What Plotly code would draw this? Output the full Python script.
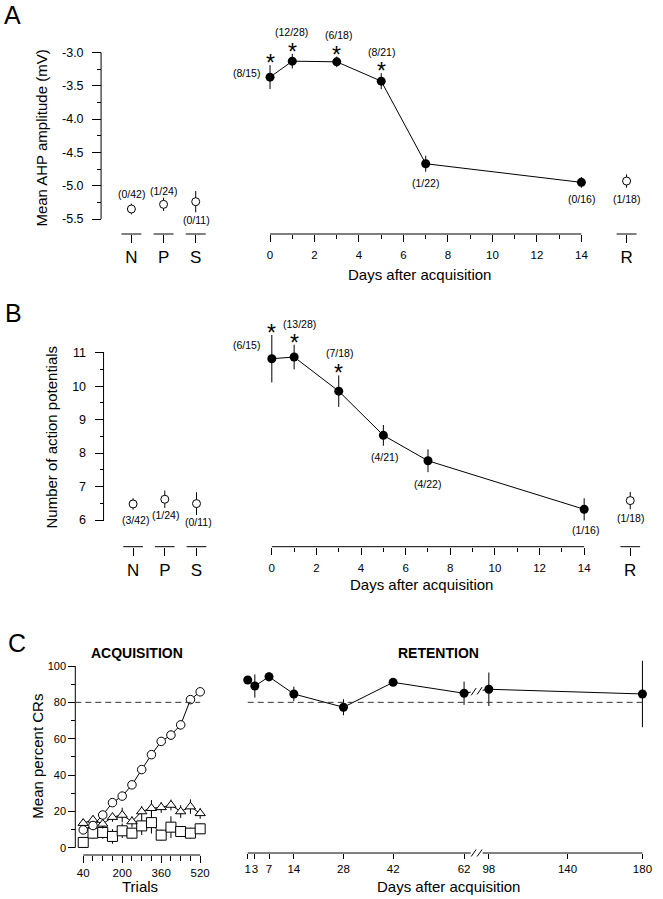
import plotly.graph_objects as go

W, H = 663, 899
SANS = "Liberation Sans, Arial, Helvetica, sans-serif"

# ---------------- data ----------------
days = [0, 1, 3, 5, 7, 14]
ctrl_groups = ["N", "P", "S"]
retest_group = ["R"]

# A: mean AHP amplitude (mV)
ahp_mean = [-3.37, -3.13, -3.14, -3.43, -4.67, -4.95]
ahp_sem = [0.18, 0.11, 0.08, 0.12, 0.12, 0.08]
ahp_counts = ["(8/15)", "(12/28)", "(6/18)", "(8/21)", "(1/22)", "(0/16)"]
ahp_signif = [1, 1, 1, 1, 0, 0]
ahp_ctrl_mean = [-5.35, -5.28, -5.24]
ahp_ctrl_sem = [0.08, 0.10, 0.16]
ahp_ctrl_counts = ["(0/42)", "(1/24)", "(0/11)"]
ahp_r_mean = [-4.93]
ahp_r_sem = [0.10]
ahp_r_counts = ["(1/18)"]

# B: number of action potentials
ap_mean = [10.82, 10.87, 9.85, 8.53, 7.77, 6.32]
ap_sem = [0.71, 0.37, 0.47, 0.31, 0.34, 0.33]
ap_counts = ["(6/15)", "(13/28)", "(7/18)", "(4/21)", "(4/22)", "(1/16)"]
ap_signif = [1, 1, 1, 0, 0, 0]
ap_ctrl_mean = [6.48, 6.62, 6.49]
ap_ctrl_sem = [0.17, 0.26, 0.34]
ap_ctrl_counts = ["(3/42)", "(1/24)", "(0/11)"]
ap_r_mean = [6.58]
ap_r_sem = [0.26]
ap_r_counts = ["(1/18)"]

# C: acquisition, mean percent CRs per 40-trial block
trials = [40, 80, 120, 160, 200, 240, 280, 320, 360, 400, 440, 480, 520]
cr_circle = [9.8, 12.2, 18.0, 24.8, 28.4, 34.6, 43.0, 51.2, 58.5, 62.0, 67.6, 81.5, 85.8]
cr_circle_sem = [1.5, 1.5, 1.5, 2.0, 2.0, 2.0, 2.0, 2.0, 2.0, 2.5, 2.5, 2.0, 1.5]
cr_triangle = [13.5, 15.3, 13.1, 16.8, 18.0, 14.4, 19.9, 21.7, 22.2, 23.5, 19.9, 22.6, 18.9]
cr_triangle_sem = [2.5, 2.5, 2.5, 2.5, 4.0, 3.0, 3.0, 4.5, 3.0, 3.0, 3.5, 4.0, 3.0]
cr_square = [2.9, 8.0, 8.4, 6.2, 9.3, 8.0, 12.0, 13.8, 6.9, 11.3, 8.9, 8.0, 10.4]
cr_square_sem = [2.5, 3.0, 3.5, 4.0, 4.0, 3.0, 5.0, 6.0, 3.0, 6.0, 3.0, 3.0, 3.0]
criterion = 80

# C: retention
ret_days_early = [1, 3, 7, 14, 28, 42, 62]
ret_cr_early = [92.3, 89.0, 94.1, 84.6, 77.3, 91.0, 85.0]
ret_sem_early = [1.0, 6.4, 2.6, 4.0, 4.4, 1.0, 6.4]
ret_days_late = [98, 180]
ret_cr_late = [87.2, 84.6]
ret_sem_late = [9.2, 18.3]
ret_ticks_early = [1, 3, 7, 14, 28, 42, 62]
ret_ticks_late = [98, 140, 180]

# label offsets (px, screen: +dy = down)
ahp_off = [(-24, -4), (-1, -29), (2, -27), (0, -29), (0, 19), (0, 17)]
ahp_ctrl_off = [(0, -15), (0, -13), (1, 18)]
ahp_r_off = [(0, 18)]
ap_off = [(-25, -14), (5, -33), (1, -38), (1, 22), (0, 23), (1, 21)]
ap_ctrl_off = [(2, 16), (1, 16), (2, 18)]
ap_r_off = [(0, 17)]


def px(x):
    return x / W


def py(y):
    return 1 - y / H


def val_at(v0, p0, v1, p1, p):
    return v0 + (p - p0) * (v1 - v0) / (p1 - p0)


def pix_at(v0, p0, v1, p1, v):
    return p0 + (v - v0) * (p1 - p0) / (v1 - v0)


def xdom(pts, rng):
    return [px(pix_at(*pts, rng[0])), px(pix_at(*pts, rng[1]))]


def akey(a, i):
    return f"{a}axis" if i == 1 else f"{a}axis{i}"


def aref(a, i):
    return a if i == 1 else f"{a}{i}"


BLACK = "black"
LINE = dict(color=BLACK, width=1)
tick_common = dict(ticks="outside", tickcolor=BLACK, tickwidth=1, showgrid=False,
                   zeroline=False, showline=False, anchor="free", tickangle=0)

fig = go.Figure()
lay = {}
ann = []
shp = []


def err(a):
    return dict(type="data", array=a, visible=True, thickness=1, width=0, color=BLACK)


def paper_text(text, xy, size, angle=0):
    ann.append(dict(x=px(xy[0]), y=py(xy[1]), xref="paper", yref="paper", text=text,
                    textangle=angle, showarrow=False, xanchor="center", yanchor="middle",
                    font=dict(family=SANS, size=size, color=BLACK)))


def add_ab_panel(ax, g, d):
    yi, xd, xg, xr = ax
    yr, xdr, xgr, xrr = aref("y", yi), aref("x", xd), aref("x", xg), aref("x", xr)
    ap = g["axis_py"]
    y_lo = val_at(*g["y_pts"], ap)
    y_hi = val_at(*g["y_pts"], g["y_top"])
    lay[akey("y", yi)] = dict(
        tick_common, range=[y_lo, y_hi], domain=[py(ap), py(g["y_top"])],
        position=px(g["y_px"]), ticklen=9, ticklabelstandoff=6, tickvals=g["y_ticks"],
        ticktext=[g["y_fmt"].format(v) for v in g["y_ticks"]],
        minor=dict(tickvals=g["y_minor"], ticks="outside", ticklen=4, tickcolor=BLACK, tickwidth=1),
        tickfont=dict(family=SANS, size=12.5, color=BLACK))
    shp.append(dict(type="line", xref="paper", yref=yr, x0=px(g["y_px"]), x1=px(g["y_px"]),
                    y0=min(g["y_ticks"]), y1=max(g["y_ticks"]), line=LINE))

    dr = [-0.8, 14.8]
    lay[akey("x", xd)] = dict(
        tick_common, range=dr, domain=xdom(g["d_pts"], dr), position=py(ap), ticklen=7,
        ticklabelstandoff=3, tickvals=list(range(0, 15, 2)),
        minor=dict(tickvals=list(range(1, 14, 2)), ticks="outside", ticklen=4, tickcolor=BLACK, tickwidth=1),
        tickfont=dict(family=SANS, size=11.5, color=BLACK))
    shp.append(dict(type="line", xref=xdr, yref="paper", x0=min(days), x1=max(days),
                    y0=py(ap), y1=py(ap), line=LINE))

    gr = [-0.7, 2.6]
    lay[akey("x", xg)] = dict(
        tick_common, type="category", range=gr, domain=xdom(g["g_pts"], gr), position=py(ap),
        ticklen=8, tickfont=dict(family=SANS, size=17, color=BLACK))
    gs = (g["g_pts"][3] - g["g_pts"][1]) / (g["g_pts"][2] - g["g_pts"][0])
    rr = [-0.6, 0.6]
    lay[akey("x", xr)] = dict(
        tick_common, type="category", range=rr,
        domain=[px(g["r_px"] + rr[0] * gs), px(g["r_px"] + rr[1] * gs)], position=py(ap),
        ticklen=8, tickfont=dict(family=SANS, size=17, color=BLACK))
    for i in range(len(ctrl_groups)):
        shp.append(dict(type="line", xref=xgr, yref="paper", x0=i - 0.31, x1=i + 0.31,
                        y0=py(ap), y1=py(ap), line=LINE))
    shp.append(dict(type="line", xref=xrr, yref="paper", x0=-0.31, x1=0.31,
                    y0=py(ap), y1=py(ap), line=LINE))

    fig.add_trace(go.Scatter(
        x=days, y=d["mean"], error_y=err(d["sem"]), mode="lines+markers",
        marker=dict(color=BLACK, size=9), line=LINE, xaxis=xdr, yaxis=yr,
        showlegend=False, cliponaxis=False))
    open_m = dict(color="white", size=8, line=dict(color=BLACK, width=1))
    fig.add_trace(go.Scatter(
        x=ctrl_groups, y=d["c_mean"], error_y=err(d["c_sem"]), mode="markers",
        marker=open_m, xaxis=xgr, yaxis=yr, showlegend=False, cliponaxis=False))
    fig.add_trace(go.Scatter(
        x=retest_group, y=d["r_mean"], error_y=err(d["r_sem"]), mode="markers",
        marker=open_m, xaxis=xrr, yaxis=yr, showlegend=False, cliponaxis=False))

    lf = dict(family=SANS, size=10.5, color=BLACK)
    groups = [(days, d["mean"], d["counts"], d["off"], xdr),
              (ctrl_groups, d["c_mean"], d["c_counts"], d["c_off"], xgr),
              (retest_group, d["r_mean"], d["r_counts"], d["r_off"], xrr)]
    for xs, ys, ts, offs, xref in groups:
        for x, y, t, (dx, dy) in zip(xs, ys, ts, offs):
            ann.append(dict(x=x, y=y, xref=xref, yref=yr, text=t, showarrow=False,
                            xanchor="center", yanchor="middle",
                            xshift=dx, yshift=-dy, font=lf))
    for x, y, e, s in zip(days, d["mean"], d["sem"], d["signif"]):
        if s:
            ann.append(dict(x=x, y=y + e, xref=xdr, yref=yr, text="*", showarrow=False,
                            xanchor="center", yanchor="middle",
                            yshift=2, font=dict(family=SANS, size=23, color=BLACK)))

    paper_text(g["ytitle"], g["ytitle_xy"], 15, angle=-90)
    paper_text("Days after acquisition", g["xtitle_xy"], 15)
    paper_text(g["letter"], g["letter_xy"], 25)


geo_a = dict(y_pts=(-3.0, 52.5, -5.5, 219), y_top=44, y_px=102, axis_py=234,
             y_ticks=[-3.0, -3.5, -4.0, -4.5, -5.0, -5.5],
             y_minor=[-3.25, -3.75, -4.25, -4.75, -5.25], y_fmt="{:.1f}",
             d_pts=(0, 272.5, 14, 586.7), g_pts=(0, 132.6, 2, 197.5), r_px=632.3,
             ytitle="Mean AHP amplitude (mV)", ytitle_xy=(42, 138), xtitle_xy=(423, 274),
             letter="A", letter_xy=(13, 15))
data_a = dict(mean=ahp_mean, sem=ahp_sem, counts=ahp_counts, signif=ahp_signif, off=ahp_off,
              c_mean=ahp_ctrl_mean, c_sem=ahp_ctrl_sem, c_counts=ahp_ctrl_counts, c_off=ahp_ctrl_off,
              r_mean=ahp_r_mean, r_sem=ahp_r_sem, r_counts=ahp_r_counts, r_off=ahp_r_off)

geo_b = dict(y_pts=(11, 352.7, 6, 520), y_top=329, y_px=104.5, axis_py=546.7,
             y_ticks=[6, 7, 8, 9, 10, 11], y_minor=[6.5, 7.5, 8.5, 9.5, 10.5], y_fmt="{:.0f}",
             d_pts=(0, 274.3, 14, 589.5), g_pts=(0, 134.3, 2, 198.3), r_px=636,
             ytitle="Number of action potentials", ytitle_xy=(51, 437), xtitle_xy=(425, 584),
             letter="B", letter_xy=(13.5, 313))
data_b = dict(mean=ap_mean, sem=ap_sem, counts=ap_counts, signif=ap_signif, off=ap_off,
              c_mean=ap_ctrl_mean, c_sem=ap_ctrl_sem, c_counts=ap_ctrl_counts, c_off=ap_ctrl_off,
              r_mean=ap_r_mean, r_sem=ap_r_sem, r_counts=ap_r_counts, r_off=ap_r_off)

add_ab_panel((1, 1, 2, 3), geo_a, data_a)
add_ab_panel((2, 4, 5, 6), geo_b, data_b)

# ---------------- panel C ----------------
c_ypts = (0, 847.7, 100, 666)
acq_py, ret_py = 855, 853
c_y_rng = [val_at(*c_ypts, acq_py), val_at(*c_ypts, 655)]
lay["yaxis3"] = dict(
    tick_common, range=c_y_rng, domain=[py(acq_py), py(655)], position=px(76), ticklen=7,
    tickvals=list(range(0, 101, 20)),
    minor=dict(tickvals=list(range(10, 100, 20)), ticks="outside", ticklen=4, tickcolor=BLACK, tickwidth=1),
    tickfont=dict(family=SANS, size=11, color=BLACK))
shp.append(dict(type="line", xref="paper", yref="y3", x0=px(76), x1=px(76), y0=0, y1=100, line=LINE))

acq_pts = (40, 84, 520, 202)
acq_rng = [val_at(*acq_pts, 76), val_at(*acq_pts, 206)]
lay["xaxis7"] = dict(
    tick_common, range=acq_rng, domain=xdom(acq_pts, acq_rng), position=py(acq_py), ticklen=7,
    tickvals=[40, 200, 360, 520],
    minor=dict(tickvals=[t for t in trials if t not in (40, 200, 360, 520)], ticks="outside",
               ticklen=5, tickcolor=BLACK, tickwidth=1),
    tickfont=dict(family=SANS, size=11.5, color=BLACK))
shp.append(dict(type="line", xref="x7", yref="paper", x0=min(trials), x1=max(trials),
                y0=py(acq_py), y1=py(acq_py), line=LINE))
shp.append(dict(type="line", xref="x7", yref="y3", x0=acq_rng[0], x1=max(trials), y0=criterion,
                y1=criterion, line=dict(color="#333", width=1, dash="6px,4px")))

for ys, es, sym, sz in [(cr_square, cr_square_sem, "square", 10),
                        (cr_triangle, cr_triangle_sem, "triangle-up", 9),
                        (cr_circle, cr_circle_sem, "circle", 8.5)]:
    fig.add_trace(go.Scatter(
        x=trials, y=ys, error_y=err(es), mode="lines+markers", line=LINE,
        marker=dict(symbol=sym, size=sz, color="white", line=dict(color=BLACK, width=1)),
        xaxis="x7", yaxis="y3", showlegend=False, cliponaxis=False))

# retention: broken day axis
brk_l, brk_r, brk_mid = 475, 487, 481
ret_e_pts = (1, 250, 62, 468.3)
ret_l_pts = (98, 493.3, 180, 648.3)
ret_e_rng = [val_at(*ret_e_pts, 245), val_at(*ret_e_pts, brk_mid)]
ret_l_rng = [val_at(*ret_l_pts, brk_mid), val_at(*ret_l_pts, 656)]
for name, pts, rng, tv in [("xaxis8", ret_e_pts, ret_e_rng, ret_ticks_early),
                           ("xaxis9", ret_l_pts, ret_l_rng, ret_ticks_late)]:
    lay[name] = dict(tick_common, range=rng, domain=xdom(pts, rng), position=py(ret_py),
                     ticklen=5, tickvals=tv, tickfont=dict(family=SANS, size=11.5, color=BLACK))
shp.append(dict(type="line", xref="x8", yref="paper", x0=min(ret_days_early),
                x1=val_at(*ret_e_pts, brk_l), y0=py(ret_py), y1=py(ret_py), line=LINE))
shp.append(dict(type="line", xref="x9", yref="paper", x0=val_at(*ret_l_pts, brk_r),
                x1=max(ret_days_late), y0=py(ret_py), y1=py(ret_py), line=LINE))
shp.append(dict(type="line", xref="x8", yref="y3", x0=min(ret_days_early), x1=ret_e_rng[1],
                y0=criterion, y1=criterion, line=dict(color="#333", width=1, dash="6px,4px")))
shp.append(dict(type="line", xref="x9", yref="y3", x0=ret_l_rng[0], x1=max(ret_days_late),
                y0=criterion, y1=criterion, line=dict(color="#333", width=1, dash="6px,4px")))

# connector across the break, from last early point to first late point
p_a = (pix_at(*ret_e_pts, ret_days_early[-1]), ret_cr_early[-1])
p_b = (pix_at(*ret_l_pts, ret_days_late[0]), ret_cr_late[0])


def y_on(pxv):
    return p_a[1] + (pxv - p_a[0]) * (p_b[1] - p_a[1]) / (p_b[0] - p_a[0])


shp.append(dict(type="line", xref="x8", yref="y3", x0=ret_days_early[-1], x1=val_at(*ret_e_pts, brk_l),
                y0=ret_cr_early[-1], y1=y_on(brk_l), line=LINE))
shp.append(dict(type="line", xref="x9", yref="y3", x0=val_at(*ret_l_pts, brk_r), x1=ret_days_late[0],
                y0=y_on(brk_r), y1=ret_cr_late[0], line=LINE))
for xc in (brk_l + 3, brk_r - 3):
    shp.append(dict(type="line", xref="paper", yref="y3", x0=px(xc - 2.5), x1=px(xc + 2.5),
                    y0=y_on(xc) - 2, y1=y_on(xc) + 2, line=LINE))
    shp.append(dict(type="line", xref="paper", yref="paper", x0=px(xc - 2.5), x1=px(xc + 2.5),
                    y0=py(ret_py + 3.5), y1=py(ret_py - 3.5), line=LINE))

fig.add_trace(go.Scatter(
    x=ret_days_early, y=ret_cr_early, error_y=err(ret_sem_early), mode="lines+markers",
    marker=dict(color=BLACK, size=9), line=LINE, xaxis="x8", yaxis="y3",
    showlegend=False, cliponaxis=False))
fig.add_trace(go.Scatter(
    x=ret_days_late, y=ret_cr_late, error_y=err(ret_sem_late), mode="lines+markers",
    marker=dict(color=BLACK, size=9), line=LINE, xaxis="x9", yaxis="y3",
    showlegend=False, cliponaxis=False))

paper_text("C", (17, 643), 25)
paper_text("<b>ACQUISITION</b>", (138, 653), 14)
paper_text("<b>RETENTION</b>", (442, 653), 14)
paper_text("Mean percent CRs", (37, 756), 15, angle=-90)
paper_text("Trials", (141, 886), 15)
paper_text("Days after acquisition", (453, 886), 15)

fig.update_layout(
    width=W, height=H, autosize=False, margin=dict(l=0, r=0, t=0, b=0),
    paper_bgcolor="white", plot_bgcolor="white", showlegend=False,
    annotations=ann, shapes=shp, **lay)

fig.write_html("out.html", config={"displayModeBar": False},
               post_script="document.body.style.margin='0';")
